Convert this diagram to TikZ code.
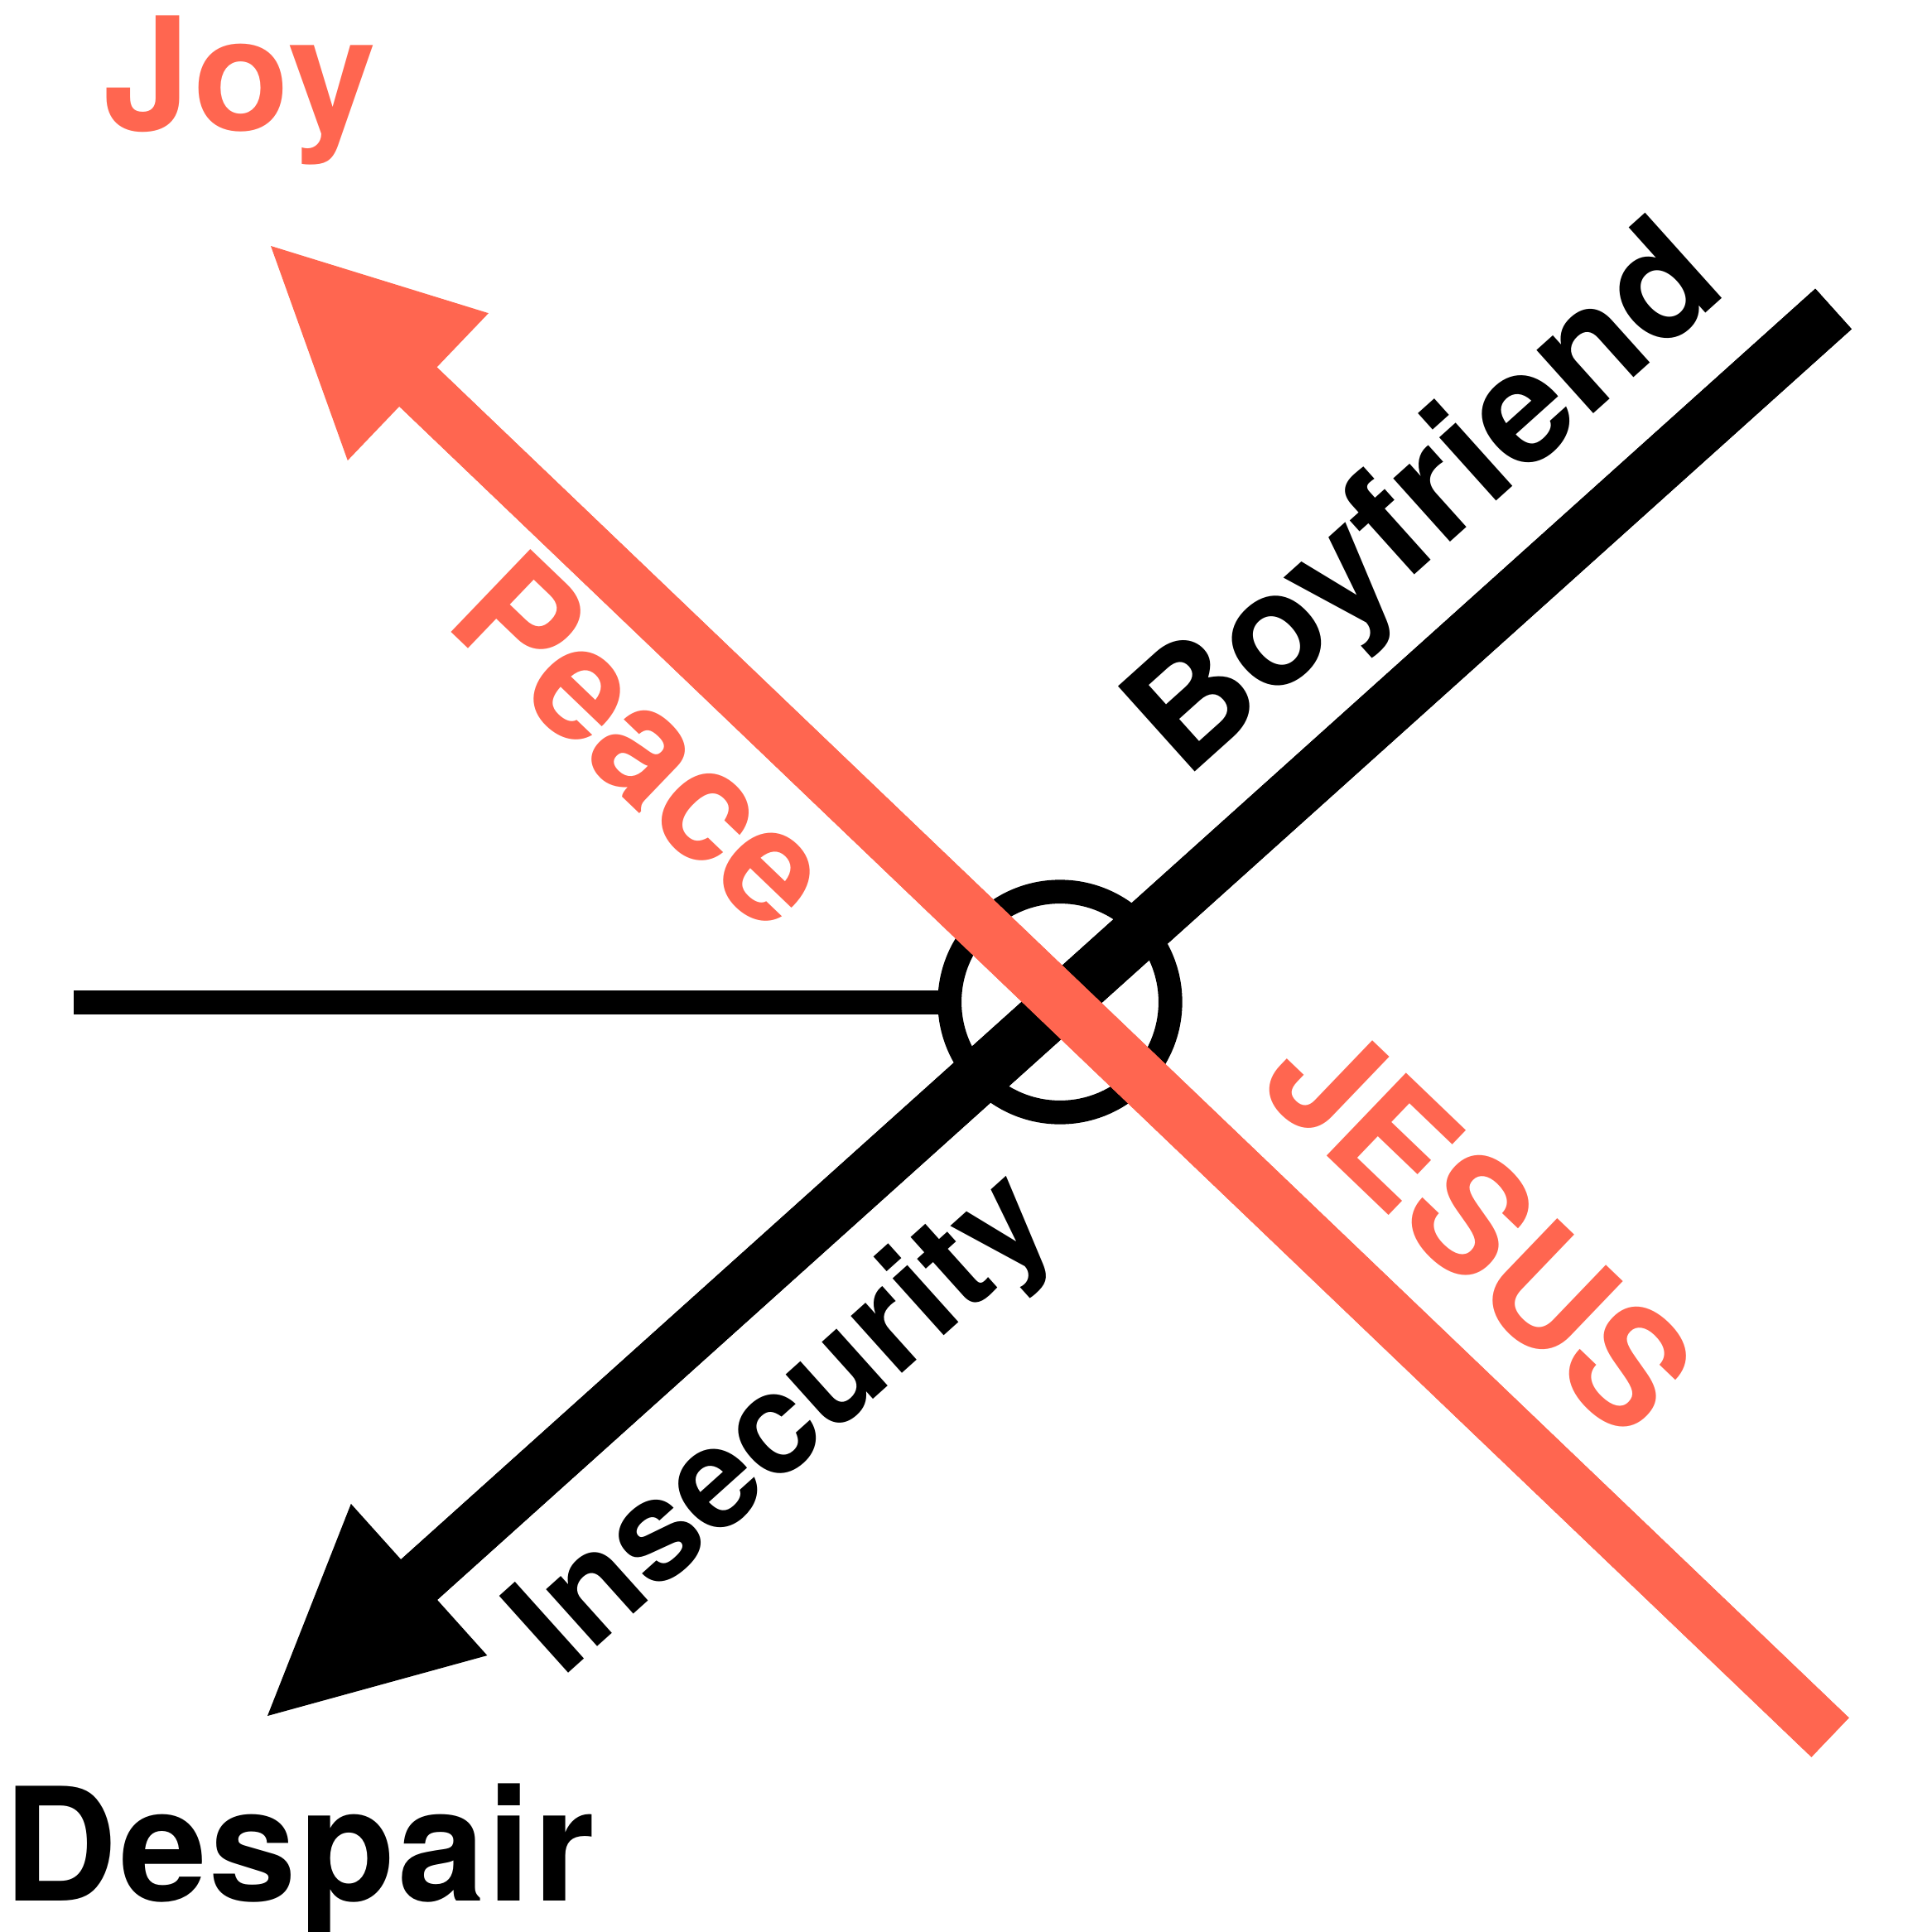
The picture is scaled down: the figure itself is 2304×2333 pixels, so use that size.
\documentclass[tikz,border=0pt]{standalone}
\usepackage{fontspec}
\setmainfont{TeX Gyre Heros}
\usepackage{xcolor}
\definecolor{joyorange}{RGB}{255,102,80}
\definecolor{inkblack}{RGB}{0,0,0}
\usetikzlibrary{arrows.meta}

\begin{document}
\begin{tikzpicture}[x=0.01cm, y=-0.01cm,
    bigword/.style={font=\fontsize{54.06}{60}\selectfont\bfseries, inner sep=0pt, anchor=base west},
    cornerword/.style={bigword, font=\fontsize{54.06}{60}\selectfont\bfseries\addfontfeature{LetterSpace=1.5}},
    smallword/.style={bigword, font=\fontsize{48.65}{54}\selectfont\bfseries},
    shaftline/.style={line width=0.655cm},
    axisline/.style={shaftline, -{Triangle[length=2.46cm, width=2.46cm, line width=0pt]}},
  ]
  \useasboundingbox (0,0) rectangle (2304,2333);

  % --- corner words ---
  \node[cornerword, joyorange] (joy) at (124,157) {Joy};
  \node[cornerword, inkblack] (despair) at (3.5,2295) {Despair};

  % --- hub ring and the flat line running into it ---
  \node[circle, draw=inkblack, line width=0.287cm, minimum size=2.664cm, inner sep=0pt] (hub) at (1280,1210) {};
  \coordinate (flatStart) at (89,1210);
  \draw[inkblack, line width=0.29cm] (flatStart) -- ([xshift=0.12cm]hub.west);

  % --- black axis: Boyfriend -> Despair ---
  \coordinate (blackEnd) at (2214,373);
  \coordinate (despairTip) at (323,2072);
  \coordinate (blackInner) at (434.6,1971.7);
  \draw[axisline, inkblack] (blackEnd) -- (despairTip);
  \draw[shaftline, inkblack] (blackEnd) -- (blackInner);

  % --- orange axis: JESUS -> Joy ---
  \coordinate (orangeEnd) at (2210,2098);
  \coordinate (joyTip) at (327,297);
  \coordinate (orangeInner) at (435.4,400.7);
  \draw[axisline, joyorange] (orangeEnd) -- (joyTip);
  \draw[shaftline, joyorange] (orangeEnd) -- (orangeInner);

  % --- words along the axes ---
  \node[bigword, inkblack, rotate=41.94] (boyfriend) at (1431,943) {Boyfriend};
  \node[smallword, inkblack, rotate=41.94] (insecurity) at (678,2028) {Insecurity};
  \node[bigword, joyorange, rotate=-43.8] (peace) at (534,753) {Peace};
  \node[bigword, joyorange, rotate=-43.8] (jesus) at (1515,1312) {JESUS};
\end{tikzpicture}
\end{document}
